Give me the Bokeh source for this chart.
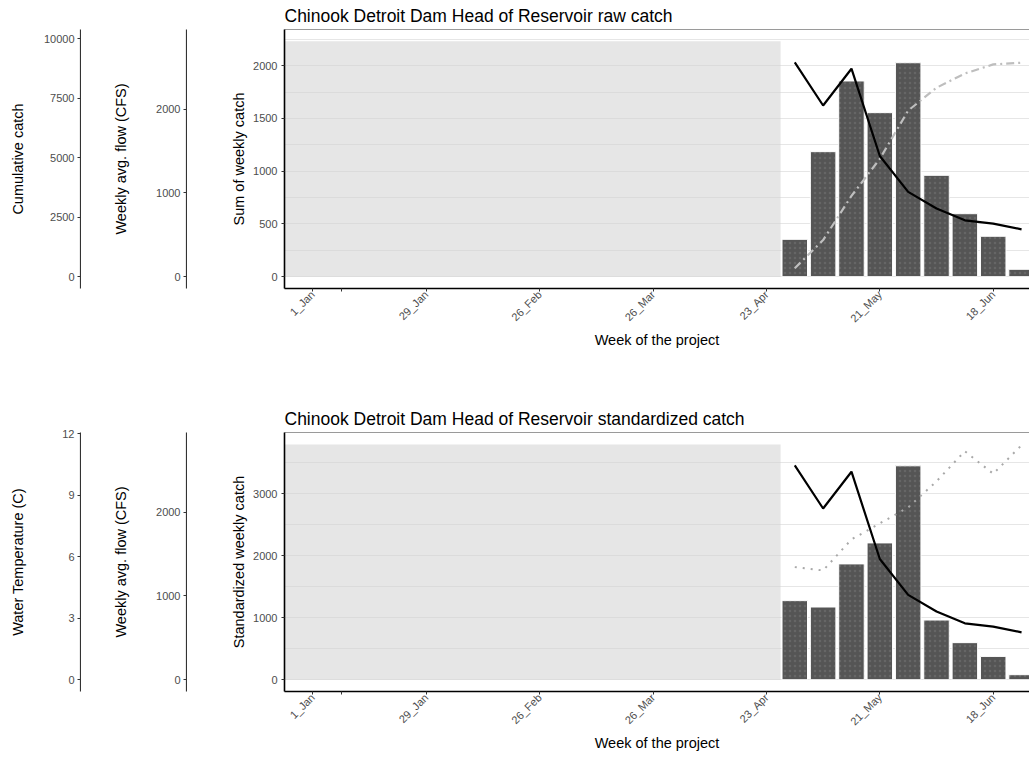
import math
from bokeh.plotting import figure
from bokeh.models import Range1d, LinearAxis, FixedTicker, Title
from bokeh.layouts import row, column
from bokeh.embed import file_html
from bokeh.resources import INLINE

# ---------------- data ----------------
weeks = [18, 19, 20, 21, 22, 23, 24, 25, 26]
raw_catch = [354, 1185, 1855, 1555, 2028, 961, 597, 383, 70]
std_catch = [1276, 1173, 1868, 2207, 3451, 963, 598, 376, 81]
flow_cfs = [2558, 2043, 2482, 1440, 1012, 813, 673, 634, 565]
cum_catch = [354, 1539, 3394, 4949, 6977, 7938, 8535, 8918, 8988]
water_temp = [5.49, 5.33, 6.84, 7.62, 8.40, 9.67, 11.14, 10.04, 11.43]

tick_weeks = [1, 2, 5, 9, 13, 17, 21, 25]
tick_labels = ["1_Jan", "", "29_Jan", "26_Feb", "26_Mar", "23_Apr", "21_May", "18_Jun"]

shade_weeks = [0, 17.5]          # weeks with no sampling
shade_top_raw = 2231
shade_top_std = 3796

raw_ticks = [0, 500, 1000, 1500, 2000]
raw_minor = [250, 750, 1250, 1750, 2250]
std_ticks = [0, 1000, 2000, 3000]
std_minor = [500, 1500, 2500, 3500]
cum_ticks = [0, 2500, 5000, 7500, 10000]
flow_ticks = [0, 1000, 2000]
temp_ticks = [0, 3, 6, 9, 12]

x_rng = (0, 26.28)
raw_rng = (-112, 2343)
std_rng = (-190, 3988)
cum_rng = (-496, 10384)
flow_rng = (-141, 2950)
temp_rng = (-0.57, 12.05)

# ---------------- styling ----------------
FONT = "Liberation Sans"
TICK_COL = "#4D4D4D"
FRAME_H = 259
TOP_B = 29


def style_y_axis(ax, ticks, label, standoff, minor=None, line_col="#333333", lw=1.2):
    ax.ticker = FixedTicker(ticks=ticks, minor_ticks=minor or [])
    ax.axis_label = label
    ax.axis_label_text_font = FONT
    ax.axis_label_text_font_size = "14.5px"
    ax.axis_label_text_font_style = "normal"
    ax.axis_label_text_color = "#000000"
    ax.axis_label_standoff = int(standoff)
    ax.major_label_text_font = FONT
    ax.major_label_text_font_size = "11px"
    ax.major_label_text_color = TICK_COL
    ax.major_label_standoff = 3
    ax.major_tick_out = 3
    ax.major_tick_in = 0
    ax.major_tick_line_color = "#333333"
    ax.minor_tick_line_color = None
    ax.axis_line_color = line_col
    ax.axis_line_width = lw


def side_fig(label, rng, ticks, border_left, standoff, border_bottom):
    p = figure(frame_width=1, frame_height=FRAME_H,
               min_border_left=border_left, min_border_right=0,
               min_border_top=TOP_B, min_border_bottom=border_bottom,
               x_range=Range1d(0, 1), y_range=Range1d(*rng),
               x_axis_location=None, output_backend="svg",
               toolbar_location=None)
    p.outline_line_color = None
    p.xgrid.visible = False
    p.ygrid.visible = False
    style_y_axis(p.left[0], ticks, label, standoff)
    return p


def main_fig(title, ylabel, rng, ticks, minor, bars, shade_top, border_bottom):
    p = figure(frame_width=745, frame_height=FRAME_H,
               min_border_left=97, min_border_right=0,
               min_border_top=TOP_B, min_border_bottom=border_bottom,
               x_range=Range1d(*x_rng), y_range=Range1d(*rng),
               output_backend="svg", toolbar_location=None)
    p.title = Title(text=title, text_font=FONT, text_font_size="17.5px",
                    text_font_style="normal", text_color="#000000",
                    align="left", standoff=7)
    p.outline_line_color = None

    ya = p.left[0]
    xa = p.below[0]
    style_y_axis(ya, ticks, ylabel, 3, minor=minor, line_col="#000000", lw=1.6)

    xa.ticker = FixedTicker(ticks=tick_weeks)
    xa.major_label_overrides = {w: lab for w, lab in zip(tick_weeks, tick_labels)}
    xa.major_label_orientation = math.pi / 4
    xa.axis_label = "Week of the project"
    xa.axis_label_text_font = FONT
    xa.axis_label_text_font_size = "14.5px"
    xa.axis_label_text_font_style = "normal"
    xa.axis_label_text_color = "#000000"
    xa.axis_label_standoff = 0
    xa.major_label_text_font = FONT
    xa.major_label_text_font_size = "11px"
    xa.major_label_text_color = TICK_COL
    xa.major_label_standoff = 1
    xa.major_tick_out = 3
    xa.major_tick_in = 0
    xa.major_tick_line_color = "#333333"
    xa.minor_tick_line_color = None
    xa.axis_line_color = "#000000"
    xa.axis_line_width = 1.6

    p.xgrid.visible = False
    p.ygrid.grid_line_color = "#E6E6E6"
    p.ygrid.minor_grid_line_color = "#E6E6E6"
    p.ygrid.grid_line_width = 1
    p.ygrid.minor_grid_line_width = 1

    top_line = LinearAxis(ticker=FixedTicker(ticks=[]), axis_line_color="#9A9A9A",
                          axis_line_width=1, major_tick_out=0, major_tick_in=0,
                          minor_tick_out=0, minor_tick_in=0, major_label_standoff=0)
    p.add_layout(top_line, "above")

    p.quad(left=[shade_weeks[0]], right=[shade_weeks[1]], bottom=[0], top=[shade_top],
           fill_color="#D2D2D2", fill_alpha=0.55, line_color=None)
    p.vbar(x=weeks, top=bars, bottom=0, width=0.9,
           fill_color="#555555", line_color="#FFFFFF", line_width=1,
           hatch_pattern="dot", hatch_color="#666666", hatch_scale=5, hatch_weight=1)
    return p


# ---------------- top row ----------------
top_bb = 115
c1 = main_fig("Chinook Detroit Dam Head of Reservoir raw catch", "Sum of weekly catch",
              raw_rng, raw_ticks, raw_minor, raw_catch, shade_top_raw, top_bb)
c1.extra_y_ranges = {"cum": Range1d(*cum_rng), "flow": Range1d(*flow_rng)}
c1.line(weeks, cum_catch, y_range_name="cum", line_color="#BEBEBE",
        line_width=2.2, line_dash="8 4 2 4")
c1.line(weeks, flow_cfs, y_range_name="flow", line_color="#000000", line_width=2.2)

a1 = side_fig("Cumulative catch", cum_rng, cum_ticks, 80, 15, top_bb)
b1 = side_fig("Weekly avg. flow (CFS)", flow_rng, flow_ticks, 105, 24, top_bb)

# ---------------- bottom row ----------------
bot_bb = 62
c2 = main_fig("Chinook Detroit Dam Head of Reservoir standardized catch",
              "Standardized weekly catch",
              std_rng, std_ticks, std_minor, std_catch, shade_top_std, bot_bb)
c2.extra_y_ranges = {"temp": Range1d(*temp_rng), "flow": Range1d(*flow_rng)}
c2.line(weeks, water_temp, y_range_name="temp", line_color="#A8A8A8",
        line_width=2, line_dash="2 6")
c2.line(weeks, flow_cfs, y_range_name="flow", line_color="#000000", line_width=2.2)

a2 = side_fig("Water Temperature (C)", temp_rng, temp_ticks, 80, 33, bot_bb)
b2 = side_fig("Weekly avg. flow (CFS)", flow_rng, flow_ticks, 105, 24, bot_bb)

p = column(row(a1, b1, c1), row(a2, b2, c2))

open("out.html", "w").write(file_html(p, INLINE))
